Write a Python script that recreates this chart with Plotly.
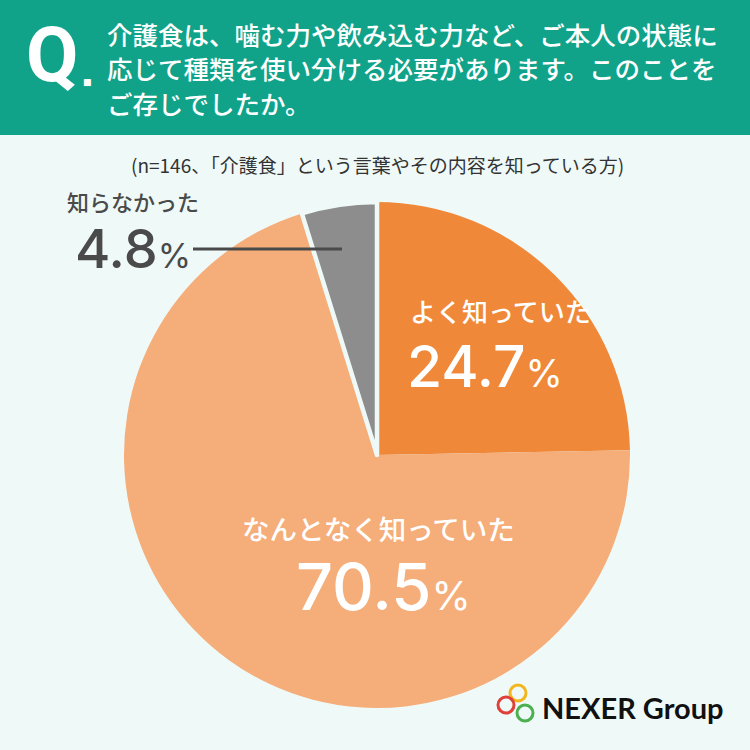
import plotly.graph_objects as go

# ---- data ----
categories = ["よく知っていた", "なんとなく知っていた", "知らなかった"]
values = [24.7, 70.5, 4.8]
colors = ["#F0883A", "#F5AD79", "#8D8D8D"]
question_lines = [
    "介護食は、噛む力や飲み込む力など、ご本人の状態に",
    "応じて種類を使い分ける必要があります。このことを",
    "ご存じでしたか。",
]
subtitle = "(n=146、「介護食」という言葉やその内容を知っている方)"
brand = "NEXER Group"

W = H = 750
BG = "#EFFAF8"
TEAL = "#10A38A"
JP = "Noto Sans CJK JP"
NUM = "Inter, Noto Sans CJK JP"


def px(x):
    return x / W


def py(y):
    return 1 - y / H


cx, cy, r = 377, 455, 253

fig = go.Figure(
    go.Pie(
        labels=categories,
        values=values,
        sort=False,
        direction="clockwise",
        rotation=0,
        marker=dict(colors=colors, line=dict(color=[BG, BG, BG], width=[0, 0, 4.5])),
        textinfo="none",
        hoverinfo="skip",
        showlegend=False,
        domain=dict(x=[px(cx - r), px(cx + r)], y=[py(cy + r), py(cy - r)]),
    )
)

shapes = [
    dict(type="rect", xref="paper", yref="paper", x0=0, x1=1, y0=py(135), y1=1,
         fillcolor=TEAL, line=dict(width=0), layer="below"),
    # leader line for the small slice
    dict(type="line", xref="paper", yref="paper", x0=px(193), x1=px(342), y0=py(249), y1=py(249),
         line=dict(color="#4A4A4A", width=3)),
]
# logo rings
for (lx, ly, col) in [(518, 693, "#F2B71F"), (506, 705, "#E0403A"), (525, 713, "#4CAF50")]:
    rr = 8
    shapes.append(dict(type="circle", xref="paper", yref="paper",
                       x0=px(lx - rr), x1=px(lx + rr), y0=py(ly + rr), y1=py(ly - rr),
                       line=dict(color=col, width=3)))

ann = []


def add(text, x, y, size, color, family=JP, xanchor="center", weight="normal"):
    ann.append(dict(text=text, x=px(x), y=py(y), xref="paper", yref="paper", showarrow=False,
                    xanchor=xanchor, yanchor="middle",
                    font=dict(size=size, color=color, family=family, weight=weight)))


add("Q", 52, 55, 76, "white", family="Roboto", weight="bold")
add("■", 87, 82, 9, "white", family="DejaVu Sans")
for i, line in enumerate(question_lines):
    add(line, 105, 33 + i * 34.5, 25.5, "white", xanchor="left", weight=500)

add(subtitle, 377, 165, 19, "#333333")


def pct(v, small):
    return f"{v}<span style='font-size:{small}px;font-weight:400'>%</span>"


# labels per slice
add(categories[2], 65, 201, 22, "#4A4A4A", xanchor="left", weight=500)
add(pct(values[2], 34), 73, 248, 54, "#4A4A4A", family=NUM, xanchor="left", weight=500)

add(categories[0], 500, 310, 26, "white", weight=500)
add(pct(values[0], 38), 405, 366, 57, "white", family=NUM, xanchor="left", weight=500)

add(categories[1], 378, 528, 27.5, "white", weight=500)
add(pct(values[1], 40), 383, 586, 65, "white", family=NUM, weight=500)

add(brand, 540, 707, 29, "#111111", family="Lato", xanchor="left", weight="bold")

fig.update_layout(
    width=W, height=H,
    margin=dict(l=0, r=0, t=0, b=0),
    paper_bgcolor=BG, plot_bgcolor=BG,
    shapes=shapes, annotations=ann,
)

fig.write_html("out.html", config={"displayModeBar": False},
               post_script="document.body.style.margin='0px';")
